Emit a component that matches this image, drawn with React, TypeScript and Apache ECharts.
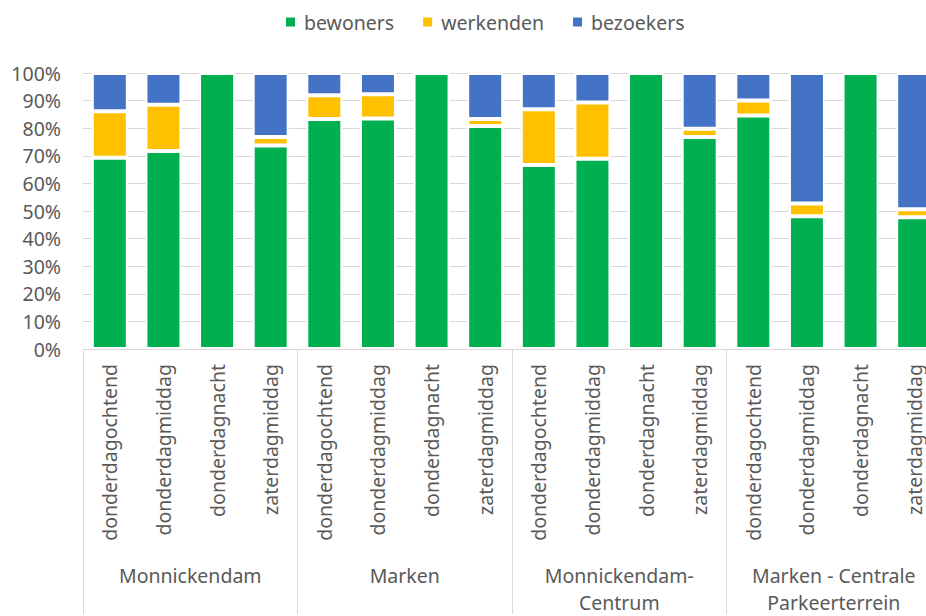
import React, { useEffect, useRef } from "react";
import * as echarts from "echarts";

const periods = [
  "donderdagochtend", "donderdagmiddag", "donderdagnacht", "zaterdagmiddag",
  "donderdagochtend", "donderdagmiddag", "donderdagnacht", "zaterdagmiddag",
  "donderdagochtend", "donderdagmiddag", "donderdagnacht", "zaterdagmiddag",
  "donderdagochtend", "donderdagmiddag", "donderdagnacht", "zaterdagmiddag",
];
const groups = ["Monnickendam", "Marken", "Monnickendam-\nCentrum", "Marken - Centrale\nParkeerterrein"];

const bewoners = [69.3, 71.7, 100, 73.7, 83.3, 83.5, 100, 80.8, 66.7, 68.9, 100, 76.8, 84.6, 48.1, 100, 47.7];
const werkenden = [16.8, 16.8, 0, 3.1, 8.6, 8.8, 0, 2.5, 20.2, 20.4, 0, 3.0, 5.4, 4.6, 0, 2.9];
const bezoekers = [13.9, 11.5, 0, 23.2, 8.1, 7.7, 0, 16.7, 13.1, 10.7, 0, 20.2, 10.0, 47.3, 0, 49.4];

const yTicks = { min: 0, max: 100, interval: 10 };

const FONT = "Noto Sans";
const TXT = "#595959";
const GRID = "#d9d9d9";

export default function App() {
  const ref = useRef<HTMLDivElement>(null);
  useEffect(() => {
    if (!ref.current) return;
    const chart = echarts.init(ref.current, null, { renderer: "svg" });
    const mk = (name: string, data: number[], color: string) => ({
      name,
      type: "bar",
      stack: "total",
      xAxisIndex: 0,
      data,
      barWidth: 36,
      itemStyle: { color, borderColor: "#ffffff", borderWidth: 2 },
    });
    chart.setOption({
      animation: false,
      textStyle: { fontFamily: FONT },
      legend: {
        left: 284,
        top: 12,
        padding: 0,
        itemWidth: 11,
        itemHeight: 11,
        itemGap: 27,
        icon: "rect",
        textStyle: { fontFamily: FONT, fontSize: 19.5, color: TXT, lineHeight: 20, padding: [0, 0, 0, 3] },
        data: ["bewoners", "werkenden", "bezoekers"],
      },
      grid: { left: 83, right: 19, top: 73, bottom: 263, containLabel: false },
      yAxis: {
        type: "value",
        min: yTicks.min,
        max: yTicks.max,
        interval: yTicks.interval,
        axisLabel: { formatter: "{value}%", color: TXT, fontFamily: FONT, fontSize: 19.5, margin: 22 },
        splitLine: { lineStyle: { color: GRID, width: 1 } },
        axisLine: { show: false },
        axisTick: { show: false },
      },
      xAxis: [
        {
          type: "category",
          data: periods,
          position: "bottom",
          axisLine: { show: false },
          axisTick: { show: false },
          axisLabel: {
            interval: 0,
            rotate: 90,
            margin: 15,
            color: TXT,
            fontFamily: FONT,
            fontSize: 19.5,
          },
        },
        {
          type: "category",
          data: groups,
          position: "bottom",
          axisLine: { show: true, lineStyle: { color: GRID, width: 1 } },
          axisTick: { show: true, length: 265, interval: 0, lineStyle: { color: GRID, width: 1 } },
          axisLabel: {
            interval: 0,
            margin: 213,
            color: TXT,
            fontFamily: FONT,
            fontSize: 19.5,
            lineHeight: 27,
          },
        },
      ],
      series: [
        mk("bewoners", bewoners, "#00B050"),
        mk("werkenden", werkenden, "#FFC000"),
        mk("bezoekers", bezoekers, "#4472C4"),
      ],
    });
    return () => chart.dispose();
  }, []);
  return (
    <div
      ref={ref}
      style={{ position: "fixed", left: 0, top: 0, width: 960, height: 616, background: "#fff" }}
    />
  );
}
